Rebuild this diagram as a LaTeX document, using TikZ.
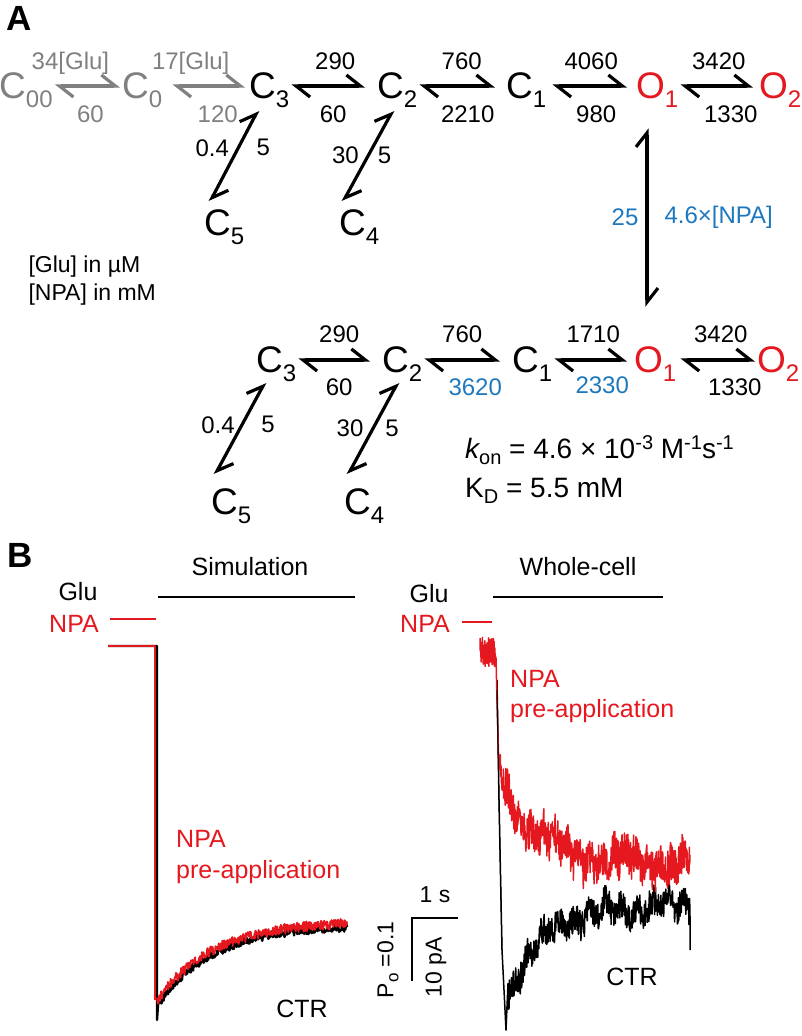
\documentclass[tikz,border=0pt]{standalone}
\usepackage{fontspec}
\setmainfont{Liberation Sans}
\usetikzlibrary{arrows.meta,positioning}
\definecolor{npablue}{RGB}{30,120,190}
\definecolor{chred}{RGB}{228,24,30}
\definecolor{glugray}{RGB}{128,128,128}
\newcommand{\fs}[1]{\fontsize{#1}{#1}\selectfont}
\newcommand{\st}[2]{#1\smash{\raisebox{-9pt}{\fs{24}#2}}}

\tikzset{
  state/.style={font=\fs{37}, inner xsep=2pt, inner ysep=2pt, anchor=west},
  rxn/.style={line width=3.2pt, {Straight Barb[left,length=14pt,width=22pt]}-{Straight Barb[left,length=14pt,width=22pt]}},
  rate/.style={font=\fs{24}, inner sep=0pt},
  rt/.style={rate, anchor=base, yshift=17pt},
  rb/.style={rate, anchor=base, yshift=-36pt},
  lbl/.style={font=\fs{25}, inner sep=0pt},
  trace/.style={line width=1.5pt, line join=round},
  bar/.style={line width=2.8pt}
}

\begin{document}
\begin{tikzpicture}[x=1pt,y=-1pt]
\useasboundingbox (0,0) rectangle (802,1036);

% panel A, upper scheme
\node[font=\fs{35}\bfseries] (lblA) at (19,18) {A};
\node[state, glugray] (C00) at (-3,86) {\st{C}{00}};
\node[state, glugray] (C0) at (120,86) {\st{C}{0}};
\node[state] (C3) at (247,86) {\st{C}{3}};
\node[state] (C2) at (375,86) {\st{C}{2}};
\node[state] (C1) at (504,86) {\st{C}{1}};
\node[state, chred] (O1) at (634,86) {\st{O}{1}};
\node[state, chred] (O2) at (757,86) {\st{O}{2}};
\node[state] (C5) at (202,223) {\st{C}{5}};
\node[state] (C4) at (337,223) {\st{C}{4}};

\draw[rxn, glugray] (C00) -- (C0)
  node[midway, rt, xshift=-17pt, glugray] {34[Glu]} node[midway, rb, xshift=3pt, glugray] {60};
\draw[rxn, glugray, shorten <=8pt, shorten >=2pt] (C0) -- (C3)
  node[midway, rt, xshift=-15pt, glugray] {17[Glu]} node[midway, rb, xshift=12pt, glugray] {120};
\draw[rxn, shorten >=10pt] (C3) -- (C2)
  node[midway, rt, xshift=2pt] {290} node[midway, rb] {60};
\draw[rxn, shorten >=9pt] (C2) -- (C1)
  node[midway, rt] {760} node[midway, rb, xshift=6pt] {2210};
\draw[rxn, shorten <=4pt, shorten >=7pt] (C1) -- (O1)
  node[midway, rt] {4060} node[midway, rb, xshift=5pt] {980};
\draw[rxn, shorten >=4pt] (O1) -- (O2)
  node[midway, rt] {3420} node[midway, rb, xshift=12pt] {1330};
\draw[rxn] ([xshift=11pt,yshift=-9pt]C3.south west) -- ([xshift=8pt,yshift=6pt]C5.north west)
  node[pos=.41, rate, xshift=-26pt] {0.4} node[pos=.41, rate, xshift=25pt] {5};
\draw[rxn] ([xshift=18pt,yshift=-9pt]C2.south west) -- ([xshift=6pt,yshift=6pt]C4.north west)
  node[pos=.49, rate, xshift=-23pt] {30} node[pos=.49, rate, xshift=16pt] {5};

\node[font=\fs{23}, anchor=base west] (glunote) at (25,272) {[Glu] in µM};
\node[font=\fs{23}, anchor=base west] (npanote) at (25,300) {[NPA] in mM};

% panel A, lower scheme (NPA bound)
\node[state] (C3b) at (254,360) {\st{C}{3}};
\node[state] (C2b) at (380,360) {\st{C}{2}};
\node[state] (C1b) at (510,360) {\st{C}{1}};
\node[state, chred] (O1b) at (632,360) {\st{O}{1}};
\node[state, chred] (O2b) at (755,360) {\st{O}{2}};
\node[state] (C5b) at (209,502) {\st{C}{5}};
\node[state] (C4b) at (342,502) {\st{C}{4}};

\draw[rxn] ([xshift=13pt,yshift=-27pt]O1.south west) -- ([xshift=15pt,yshift=38pt]O1b.north west)
  node[midway, rate, anchor=east, xshift=-7pt, npablue] {25}
  node[midway, rate, anchor=west, xshift=16pt, npablue] {4.6×[NPA]};

\draw[rxn, shorten >=10pt] (C3b) -- (C2b)
  node[midway, rt, yshift=1pt] {290} node[midway, rb, yshift=1pt] {60};
\draw[rxn, shorten >=10pt] (C2b) -- (C1b)
  node[midway, rt, yshift=1pt, xshift=-5pt] {760} node[midway, rb, yshift=1pt, xshift=8pt, npablue] {3620};
\draw[rxn, shorten >=5pt] (C1b) -- (O1b)
  node[midway, rt, yshift=1pt] {1710} node[midway, rb, yshift=3pt, xshift=9pt, npablue] {2330};
\draw[rxn, shorten <=2pt] (O1b) -- (O2b)
  node[midway, rt, yshift=1pt, xshift=4pt] {3420} node[midway, rb, yshift=1pt, xshift=18pt] {1330};
\draw[rxn] ([xshift=11pt,yshift=-7pt]C3b.south west) -- ([xshift=6pt,yshift=12pt]C5b.north west)
  node[pos=.46, rate, xshift=-24pt] {0.4} node[pos=.46, rate, xshift=26pt] {5};
\draw[rxn] ([xshift=18pt,yshift=-7pt]C2b.south west) -- ([xshift=6pt,yshift=12pt]C4b.north west)
  node[pos=.5, rate, xshift=-23pt] {30} node[pos=.5, rate, xshift=19pt] {5};

\node[font=\fs{28}, anchor=base west, inner sep=0pt] (kon) at (465,458)
  {{\itshape k}\raisebox{-6pt}{\fs{20}on} = 4.6 × 10\raisebox{9pt}{\fs{20}-3} M\raisebox{9pt}{\fs{20}-1}s\raisebox{9pt}{\fs{20}-1}};
\node[font=\fs{28}, anchor=base west, inner sep=0pt] (kd) at (465,497)
  {K\raisebox{-6pt}{\fs{20}D} = 5.5 mM};

% panel B
\node[font=\fs{35}\bfseries] (lblB) at (20,555) {B};
\node[lbl, anchor=base] (simtitle) at (250,575) {Simulation};
\node[lbl, anchor=base] (wctitle) at (578,575) {Whole-cell};
\node[lbl, anchor=base] (glusim) at (78,600) {Glu};
\node[lbl, anchor=base, chred] (npasim) at (74,632) {NPA};
\node[lbl, anchor=base] (gluwc) at (429,602) {Glu};
\node[lbl, anchor=base, chred] (npawc) at (425,632) {NPA};
\draw[bar] (158,597) -- (355,597);
\draw[bar, chred] (110,619) -- (156,619);
\draw[bar] (493,597) -- (663,597);
\draw[bar, chred] (462,622) -- (492,622);

% simulated traces
\pgfmathsetseed{11}
\draw[trace, line width=2.4pt] (108,646) -- (157,646) -- (157,1020)
  -- plot[domain=158:347, samples=340] (\x,{1005-80*(1-exp(-(\x-158)/55))+4*rand});
\draw[trace, chred, line width=2.4pt] (108,646) -- (155,646) -- (155,1000);
\draw[trace, chred, line width=1.8pt] plot[domain=157:347, samples=420] (\x,{997-76*(1-exp(-(\x-160)/55))+5*rand});

% whole-cell traces
\draw[trace] (497,680) -- (499,800) -- (502,950) -- (506,1030)
  -- plot[domain=508:690, samples=520] (\x,{905+95*exp(-(\x-506)/36)+15*rand+6*sin((\x-500)*23)+5*sin((\x-500)*6)}) -- (690,950);
\draw[trace, chred] plot[domain=480:496, samples=60] (\x,{652+15*rand})
  -- (497,700) -- (499,770)
  -- plot[domain=500:690, samples=560] (\x,{862-95*exp(-(\x-500)/30)+20*rand+7*sin((\x-500)*31)+8*sin((\x-500)*5)});
\draw[trace, line width=1pt] (497,690) -- (499,800) -- (502,950);

\node[lbl, anchor=north west, align=left, chred, font=\fontsize{25}{31}\selectfont] (npapresim) at (176,830) {NPA\\pre-application};
\node[lbl, anchor=north west, align=left, chred, font=\fontsize{25}{30}\selectfont] (npaprewc) at (510,670) {NPA\\pre-application};
\node[lbl, anchor=base] (ctrsim) at (302,1017) {CTR};
\node[lbl, anchor=base] (ctrwc) at (632,985) {CTR};

% scale bar
\draw[bar, line cap=rect] (457,918) -- (412,918) -- (412,980);
\node[font=\fs{23}] (sbtime) at (435,895) {1 s};
\node[font=\fs{23}, rotate=90] (sbcur) at (436,967) {10 pA};
\node[font=\fs{23}, rotate=90] (sbpo) at (388,960) {P\raisebox{-5pt}{\fs{17}o} =0.1};
\end{tikzpicture}
\end{document}
